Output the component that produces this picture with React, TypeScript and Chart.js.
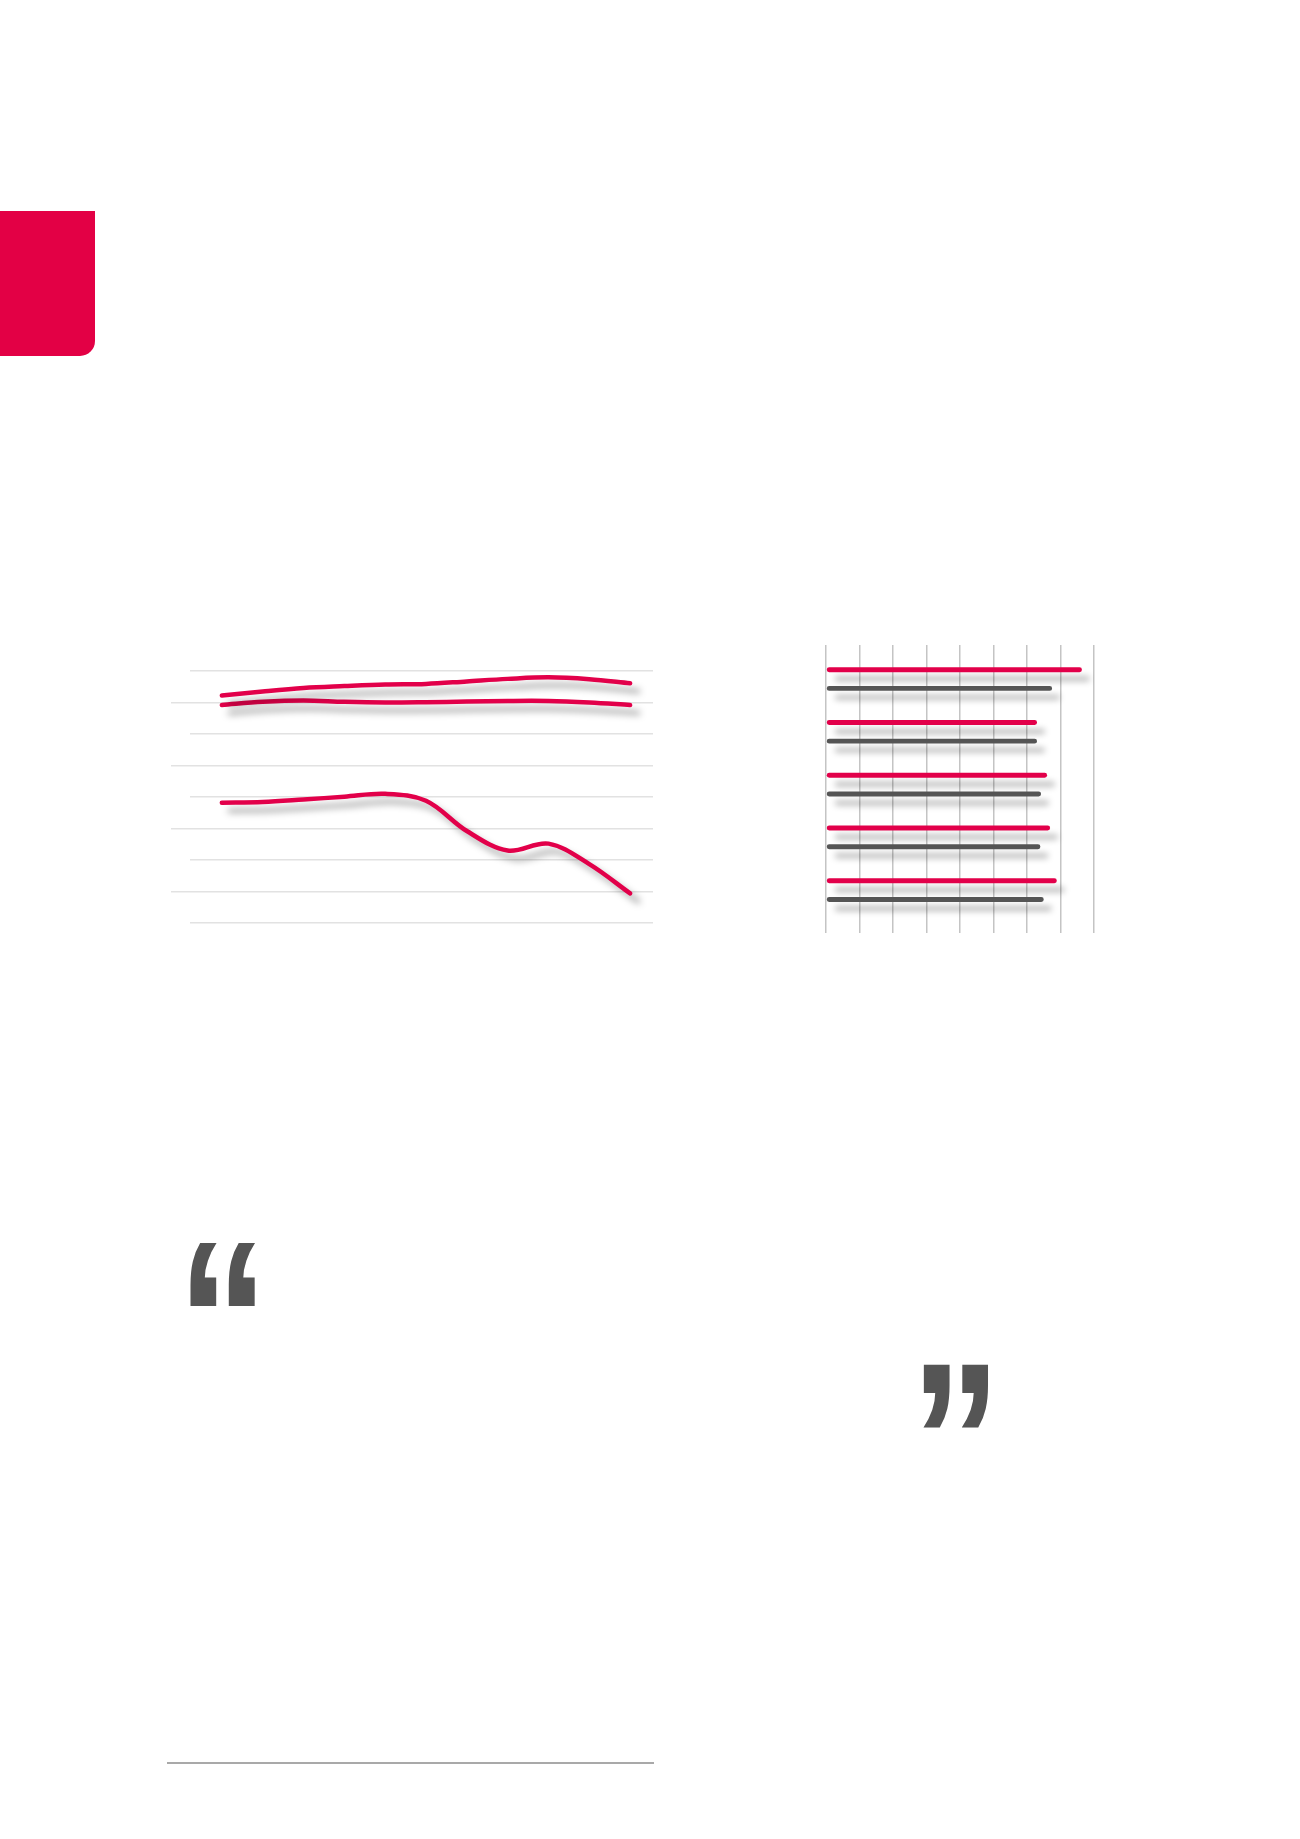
import React, { useEffect, useRef } from 'react';
import { Chart, registerables } from 'chart.js';

Chart.register(...registerables);

const RED = '#e2004a';
const DARK = '#555555';

// Left chart: three smooth series over 11 evenly spaced points
const lineIndex = [0, 1, 2, 3, 4, 5, 6, 7, 8, 9, 10];
const seriesTop = [7.22, 7.35, 7.46, 7.52, 7.57, 7.59, 7.67, 7.75, 7.8, 7.74, 7.61];
const seriesMiddle = [6.92, 7.02, 7.06, 7.02, 7.0, 7.01, 7.03, 7.05, 7.05, 7.0, 6.92];
const seriesBottom = [3.82, 3.84, 3.92, 4.01, 4.1, 3.88, 2.92, 2.3, 2.52, 1.87, 0.94];
const lineYMin = 0;
const lineYMax = 8;

// Right chart: five categories, two series
const barCategories = [0, 1, 2, 3, 4];
const barRed = [7.64, 6.3, 6.6, 6.69, 6.89];
const barGray = [6.75, 6.3, 6.42, 6.4, 6.5];
const barXMin = 0;
const barXMax = 8;

const shadowPlugin = {
  id: 'dropShadow',
  beforeDatasetDraw(chart: any, _args: any, opts: any) {
    const ctx = chart.ctx;
    ctx.save();
    ctx.shadowColor = opts.color;
    ctx.shadowBlur = opts.blur;
    ctx.shadowOffsetX = opts.x;
    ctx.shadowOffsetY = opts.y;
  },
  afterDatasetDraw(chart: any) {
    chart.ctx.restore();
  },
};

function LineChart() {
  const ref = useRef<HTMLCanvasElement>(null);
  useEffect(() => {
    const mk = (vals: number[]) => ({
      data: lineIndex.map((x, i) => ({ x, y: vals[i] })),
      borderColor: RED,
      borderWidth: 4.5,
      borderCapStyle: 'round',
      borderJoinStyle: 'round',
      pointRadius: 0,
      tension: 0.35,
      fill: false,
    });
    const chart = new Chart(ref.current as HTMLCanvasElement, {
      type: 'line',
      data: { datasets: [mk(seriesTop), mk(seriesMiddle), mk(seriesBottom)] as any },
      options: {
        animation: false,
        responsive: false,
        devicePixelRatio: 1,
        layout: { padding: { left: 21, right: 17, top: 31, bottom: 17 } },
        plugins: {
          legend: { display: false },
          tooltip: { enabled: false },
          dropShadow: { color: 'rgba(0,0,0,0.34)', blur: 7, x: 8, y: 8 },
        } as any,
        scales: {
          x: { type: 'linear', display: false, min: -0.78, max: 10.56 },
          y: {
            min: lineYMin,
            max: lineYMax,
            ticks: { display: false, stepSize: 1 },
            border: { display: false },
            grid: {
              color: '#e2e2e2',
              lineWidth: 1.5,
              drawTicks: true,
              tickLength: 19,
              tickColor: (c: any) => (c.tick && c.tick.value % 2 === 1 ? '#e2e2e2' : 'rgba(0,0,0,0)'),
            },
          },
        },
      },
      plugins: [shadowPlugin],
    });
    return () => chart.destroy();
  }, []);
  return (
    <canvas
      ref={ref}
      width={520}
      height={300}
      style={{ position: 'absolute', left: 150, top: 640, width: 520, height: 300 }}
    />
  );
}

function BarChart() {
  const ref = useRef<HTMLCanvasElement>(null);
  useEffect(() => {
    const mk = (vals: number[], color: string) => ({
      data: barCategories.map((c, i) => ({ x: vals[i], y: c })),
      backgroundColor: color,
      borderRadius: 3,
      borderSkipped: false,
      categoryPercentage: 0.709,
      barPercentage: 0.26,
    });
    const chart = new Chart(ref.current as HTMLCanvasElement, {
      type: 'bar',
      data: { datasets: [mk(barRed, RED), mk(barGray, DARK)] as any },
      options: {
        indexAxis: 'y',
        animation: false,
        responsive: false,
        devicePixelRatio: 1,
        layout: { padding: { left: 26, right: 26, top: 15, bottom: 17 } },
        plugins: {
          legend: { display: false },
          tooltip: { enabled: false },
          dropShadow: { color: 'rgba(0,0,0,0.28)', blur: 6, x: 8, y: 9 },
        } as any,
        scales: {
          x: {
            type: 'linear',
            min: barXMin,
            max: barXMax,
            offset: false,
            ticks: { display: false, stepSize: 1 },
            border: { display: false },
            grid: { color: '#c4c4c4', lineWidth: 1.5, drawTicks: false, offset: false },
          },
          y: {
            type: 'linear',
            min: -0.646,
            max: 4.813,
            reverse: true,
            offset: false,
            display: false,
            ticks: { stepSize: 1, includeBounds: false },
            grid: { display: false, offset: false },
          },
        },
      },
      plugins: [shadowPlugin],
    });
    return () => chart.destroy();
  }, []);
  return (
    <canvas
      ref={ref}
      width={320}
      height={320}
      style={{ position: 'absolute', left: 800, top: 630, width: 320, height: 320 }}
    />
  );
}

const quoteStyle: React.CSSProperties = {
  position: 'absolute',
  fontFamily: '"Liberation Sans", Arial, sans-serif',
  fontWeight: 700,
  fontSize: 222,
  lineHeight: '222px',
  color: DARK,
  margin: 0,
  transform: 'scaleX(0.825)',
  transformOrigin: 'left top',
};

export default function App() {
  return (
    <div
      style={{
        position: 'absolute',
        left: 0,
        top: 0,
        width: 1300,
        height: 1839,
        background: '#ffffff',
        overflow: 'hidden',
      }}
    >
      <div
        style={{
          position: 'absolute',
          left: 0,
          top: 211,
          width: 95,
          height: 145,
          background: '#e30045',
          borderBottomRightRadius: 15,
        }}
      />
      <LineChart />
      <BarChart />
      <span style={{ ...quoteStyle, left: 177, top: 1208 }}>“</span>
      <span style={{ ...quoteStyle, left: 910, top: 1330 }}>”</span>
      <div
        style={{
          position: 'absolute',
          left: 167,
          top: 1762,
          width: 487,
          height: 2,
          background: '#a9a9a9',
        }}
      />
    </div>
  );
}
